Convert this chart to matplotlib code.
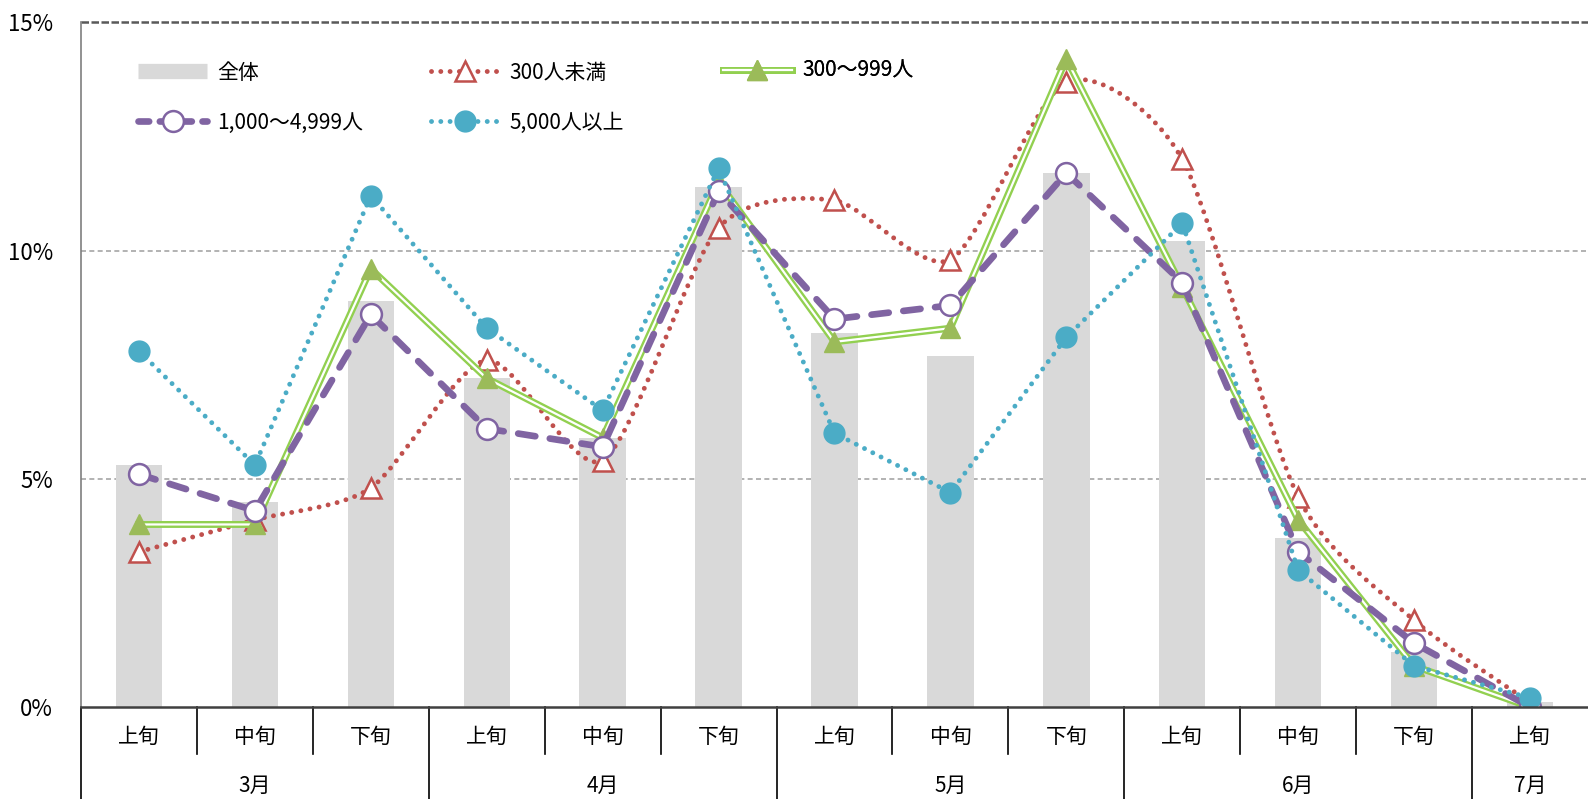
import numpy as np
import matplotlib.pyplot as plt
import matplotlib.transforms as mtransforms
from matplotlib.path import Path
from matplotlib.patches import PathPatch
from matplotlib.lines import Line2D
from matplotlib.legend_handler import HandlerTuple

plt.rcParams['font.family'] = ['Noto Sans CJK JP', 'DejaVu Sans']

# data (%), 3月上旬 .. 7月上旬
months = ['3月', '4月', '5月', '6月', '7月']
month_spans = [3, 3, 3, 3, 1]
periods = ['上旬', '中旬', '下旬'] * 4 + ['上旬']

total = [5.3, 4.5, 8.9, 7.2, 5.9, 11.4, 8.2, 7.7, 11.7, 10.2, 3.7, 1.2, 0.1]
under300 = [3.4, 4.1, 4.8, 7.6, 5.4, 10.5, 11.1, 9.8, 13.7, 12.0, 4.6, 1.9, 0.1]
s300_999 = [4.0, 4.0, 9.6, 7.2, 5.9, 11.5, 8.0, 8.3, 14.2, 9.2, 4.1, 0.9, 0.0]
s1000_4999 = [5.1, 4.3, 8.6, 6.1, 5.7, 11.3, 8.5, 8.8, 11.7, 9.3, 3.4, 1.4, 0.0]
over5000 = [7.8, 5.3, 11.2, 8.3, 6.5, 11.8, 6.0, 4.7, 8.1, 10.6, 3.0, 0.9, 0.2]

RED = '#C0504D'
GREEN = '#92D050'
GREEN_M = '#9BBB59'
PURPLE = '#8064A2'
BLUE = '#4BACC6'
GRAY = '#D9D9D9'

x = np.arange(len(periods))


def smooth_path(xs, ys, k=8.0):
    # Excel-style smoothed line: cubic bezier segments through the points
    pts = np.column_stack([xs, ys]).astype(float)
    n = len(pts)
    verts = [pts[0]]
    codes = [Path.MOVETO]
    for i in range(n - 1):
        p0 = pts[max(i - 1, 0)]
        p1 = pts[i]
        p2 = pts[i + 1]
        p3 = pts[min(i + 2, n - 1)]
        verts += [p1 + (p2 - p0) / k, p2 - (p3 - p1) / k, p2]
        codes += [Path.CURVE4] * 3
    return Path(verts, codes)


fig = plt.figure(figsize=(15.88, 7.99), dpi=100)
ax = fig.add_axes([0.051, 0.1151, 0.949, 0.8569])

ax.bar(x, total, width=0.4, color=GRAY, zorder=2)

dots = (0, (0.01, 1.9))
dashes = (0, (2.6, 2.2))

# 300人未満 (smoothed)
ax.add_patch(PathPatch(smooth_path(x, under300), facecolor='none', edgecolor=RED,
                       lw=3.5, linestyle=dots, capstyle='round', zorder=3))
ax.plot(x, under300, ls='none', marker='^', ms=14, mfc='white', mec=RED, mew=1.8, zorder=3.5)

# 300〜999人 (double line)
ax.plot(x, s300_999, color=GREEN, lw=5, zorder=4)
ax.plot(x, s300_999, color='white', lw=1.6, zorder=4.1)
ax.plot(x, s300_999, ls='none', marker='^', ms=15, color=GREEN_M, zorder=4.5)

# 1,000〜4,999人
ax.plot(x, s1000_4999, color=PURPLE, lw=4.8, ls=dashes, dash_capstyle='round', zorder=5)
ax.plot(x, s1000_4999, ls='none', marker='o', ms=15, mfc='white', mec=PURPLE, mew=1.8, zorder=5.5)

# 5,000人以上
ax.plot(x, over5000, color=BLUE, lw=3.5, ls=dots, dash_capstyle='round', zorder=6)
ax.plot(x, over5000, ls='none', marker='o', ms=15, color=BLUE, zorder=6.5)

ax.set_xlim(-0.5, 12.5)
ax.set_ylim(0, 15)
ax.set_yticks([0, 5, 10, 15])
ax.set_yticklabels(['0%', '5%', '10%', '15%'], fontsize=16)
ax.tick_params(axis='y', length=0, pad=20)
ax.set_xticks([])

for v in (5, 10):
    ax.axhline(v, color='#A6A6A6', lw=1.2, ls=(0, (3, 2)), zorder=1)
ax.axhline(15, color='#595959', lw=1.8, ls=(0, (3, 1)), zorder=1, clip_on=False)

for s in ('top', 'right'):
    ax.spines[s].set_visible(False)
ax.spines['left'].set_color('#7F7F7F')
ax.spines['left'].set_linestyle((0, (3, 1)))
ax.spines['left'].set_linewidth(1.2)
ax.spines['bottom'].set_color('#404040')
ax.spines['bottom'].set_linewidth(1.8)
ax.spines['bottom'].set_zorder(7)

# two-level category axis
trans = mtransforms.blended_transform_factory(ax.transData, ax.transAxes)
for i, p in enumerate(periods):
    ax.text(i, -0.044, p, transform=trans, ha='center', va='center', fontsize=15)
start = 0
bounds = [-0.5]
for m, span in zip(months, month_spans):
    ax.text(start + (span - 1) / 2, -0.115, m, transform=trans, ha='center', va='center', fontsize=15)
    for k in range(1, span):
        ax.plot([start + k - 0.5] * 2, [0, -0.069], transform=trans, color='black', lw=1.2, clip_on=False)
    start += span
    bounds.append(start - 0.5)
for b in bounds[:-1]:
    ax.plot([b, b], [0, -0.14], transform=trans, color='black', lw=1.2, clip_on=False)

# legend, one legend per column
h_total = Line2D([], [], color=GRAY, lw=11, solid_capstyle='butt')
h_u300 = Line2D([], [], color=RED, lw=3.5, ls=dots, dash_capstyle='round',
                marker='^', ms=14, mfc='white', mec=RED, mew=1.8)
h_g1 = Line2D([], [], color=GREEN, lw=5)
h_g2 = Line2D([], [], color='white', lw=1.6)
h_g3 = Line2D([], [], ls='none', marker='^', ms=15, color=GREEN_M)
h_1000 = Line2D([], [], color=PURPLE, lw=4.8, ls=(0, (1.6, 1.6)), dash_capstyle='round',
                marker='o', ms=15, mfc='white', mec=PURPLE, mew=1.8)
h_5000 = Line2D([], [], color=BLUE, lw=3.5, ls=dots, dash_capstyle='round',
                marker='o', ms=15, mfc=BLUE, mec=BLUE)

cols = [
    ([h_total, h_1000], ['全体', '1,000〜4,999人'], 0.038, 0.89),
    ([h_u300, h_5000], ['300人未満', '5,000人以上'], 0.232, 0.89),
    ([(h_g1, h_g2, h_g3)], ['300〜999人'], 0.426, 0.929),
]
for handles, labels, lx, ly in cols:
    leg = ax.legend(handles, labels, loc='center left', bbox_to_anchor=(lx, ly),
                    frameon=False, fontsize=15, handlelength=3.3, handletextpad=0.5,
                    labelspacing=1.35, borderpad=0, borderaxespad=0,
                    handler_map={tuple: HandlerTuple(ndivide=1, pad=0)})
    ax.add_artist(leg)

fig.savefig('out.png', dpi=100)
